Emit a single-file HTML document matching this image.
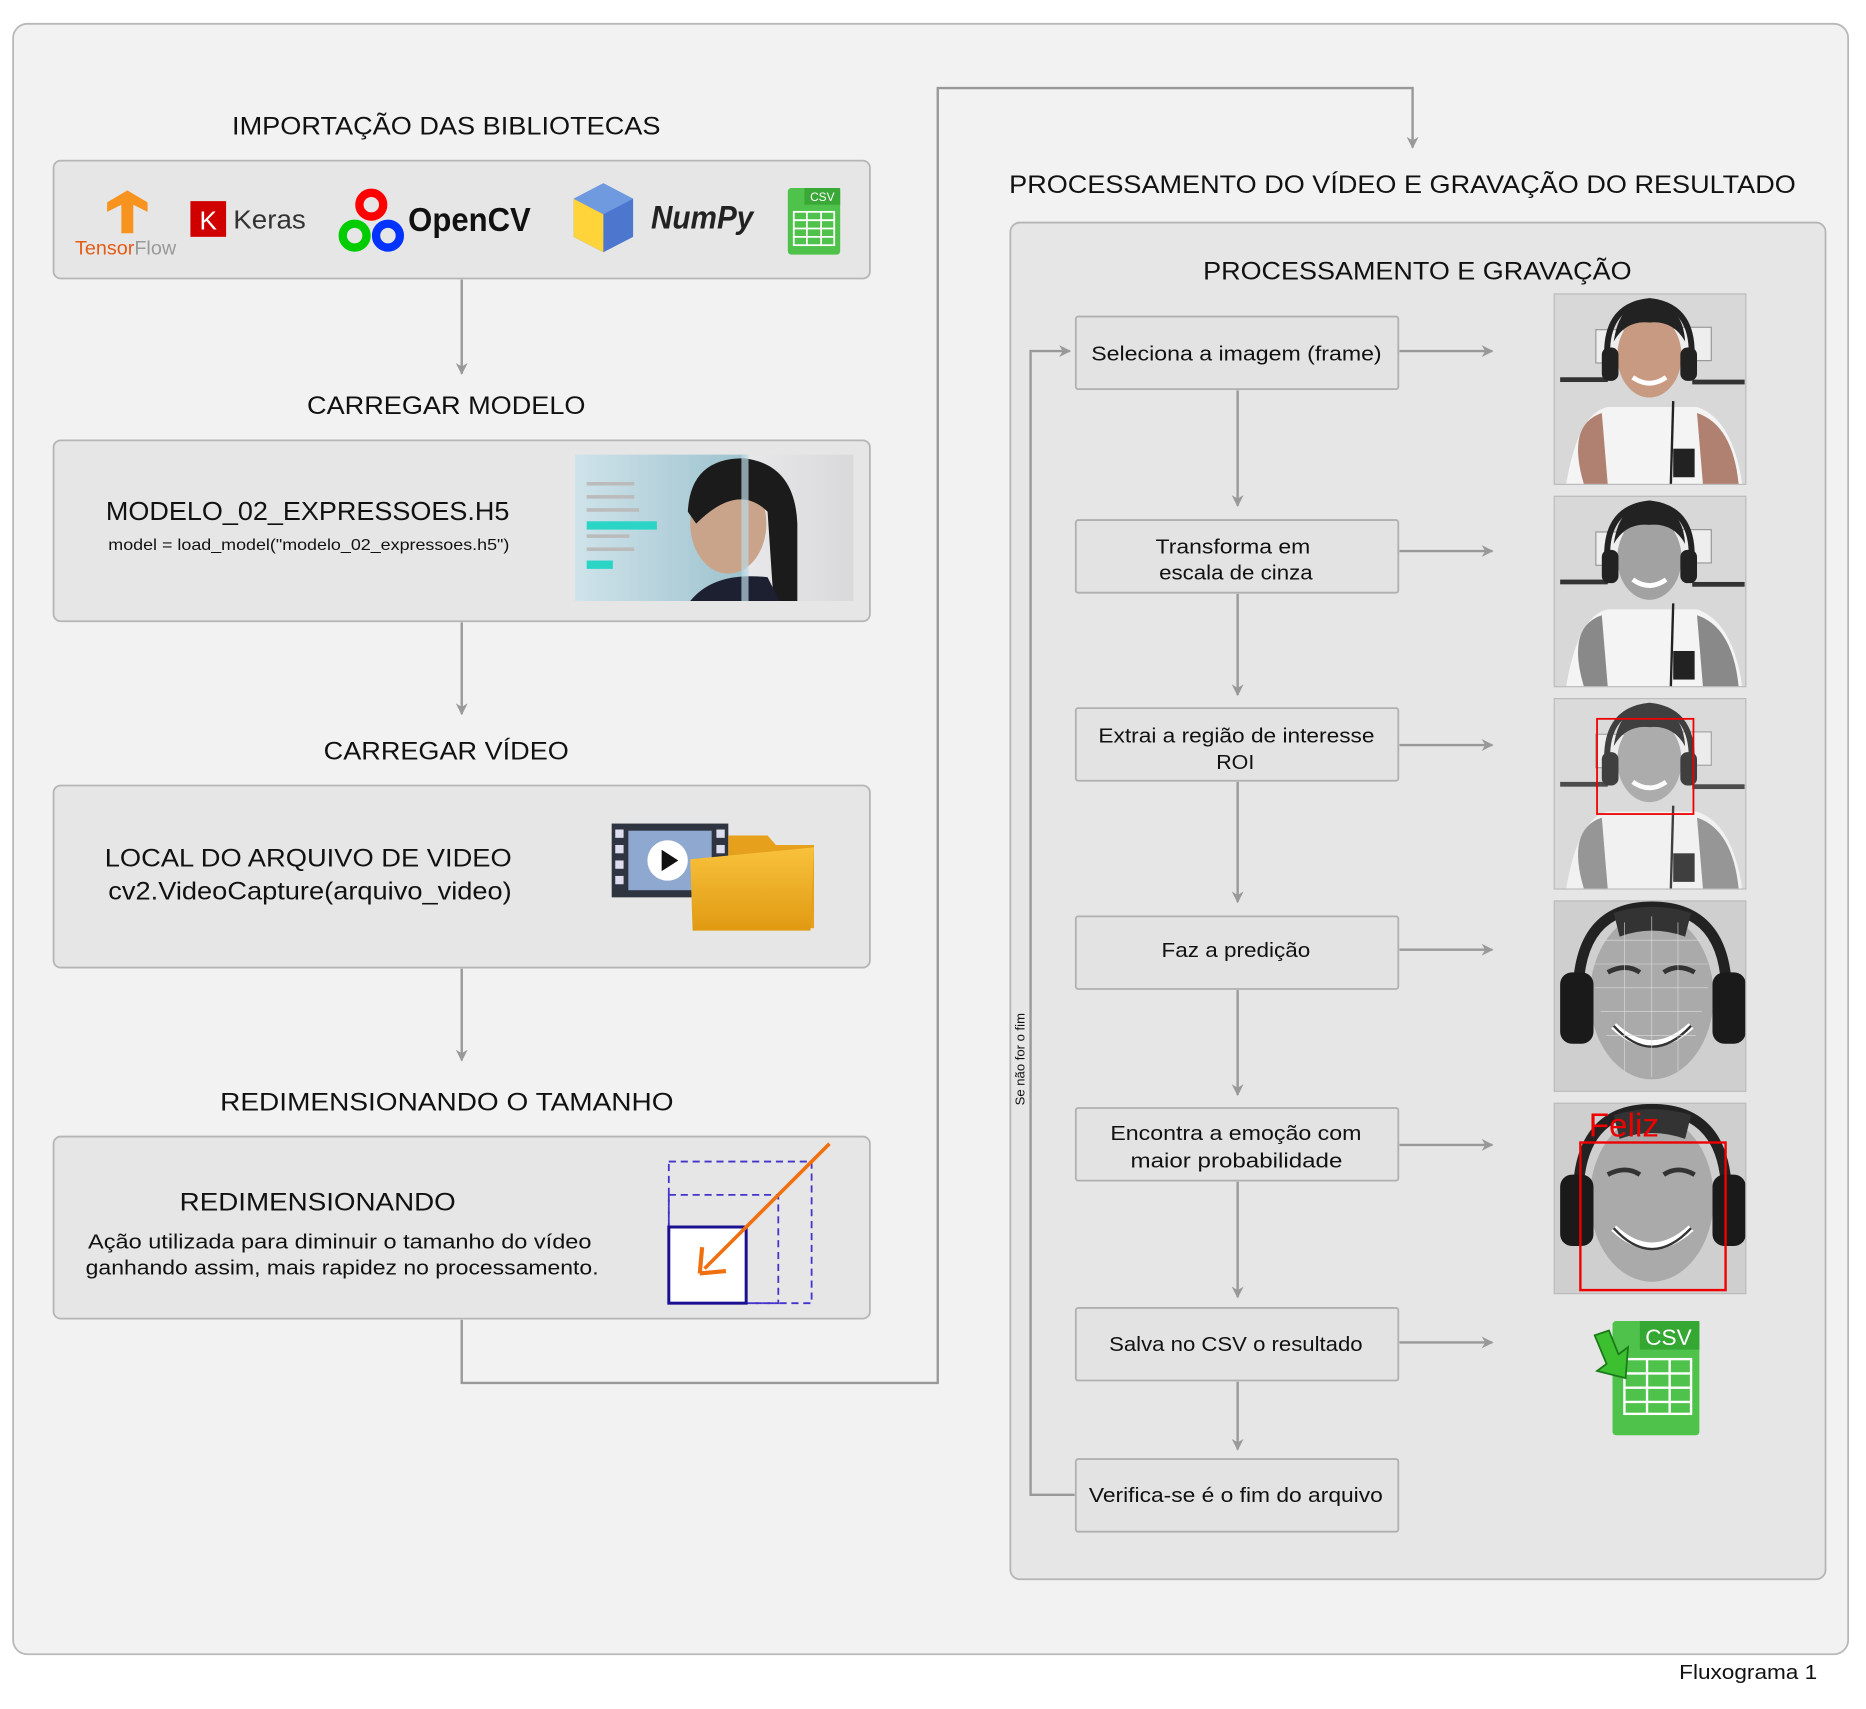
<!DOCTYPE html>
<html><head><meta charset="utf-8"><style>
html,body{margin:0;padding:0;background:#fff;}
svg{display:block;}
text{font-family:"Liberation Sans",sans-serif;fill:#111;}
</style></head><body>
<svg width="1866" height="1709" viewBox="0 0 1568 1436" preserveAspectRatio="none" xmlns="http://www.w3.org/2000/svg">
<defs>
<marker id="ar" markerWidth="10" markerHeight="10" refX="9" refY="5" orient="auto" markerUnits="userSpaceOnUse">
<path d="M0,0 L10,5 L0,10 L3,5 z" fill="#999"/></marker>
<linearGradient id="fold" x1="0" y1="0" x2="0" y2="1"><stop offset="0" stop-color="#f9c23c"/><stop offset="1" stop-color="#e09a12"/></linearGradient>
<linearGradient id="mdl" x1="0" y1="0" x2="1" y2="0"><stop offset="0" stop-color="#cfe3ea"/><stop offset="0.6" stop-color="#9ec3cf"/><stop offset="0.62" stop-color="#e8e8ea"/><stop offset="1" stop-color="#d9d9dc"/></linearGradient>
<g id="person">
<rect x="0" y="0" width="161" height="160" fill="#d8d8d8"/>
<rect x="5" y="70" width="40" height="4" fill="#333"/><rect x="116" y="72" width="44" height="4" fill="#333"/>
<rect x="35" y="30" width="30" height="28" fill="#eee" stroke="#999"/>
<rect x="100" y="28" width="32" height="28" fill="#eee" stroke="#999"/>
<path d="M10,160 Q20,100 45,95 L120,95 Q150,105 158,160 z" fill="#f4f4f4"/>
<path d="M25,160 Q10,110 40,100 L45,160 z" fill="#b08070"/>
<path d="M120,100 Q150,110 155,160 L125,160 z" fill="#b08070"/>
<ellipse cx="80" cy="52" rx="27" ry="35" fill="#c89a82"/>
<path d="M50,40 Q55,5 80,8 Q108,8 110,40 Q100,22 80,24 Q60,22 50,40z" fill="#222"/>
<path d="M45,60 Q40,10 80,6 Q120,10 115,60" fill="none" stroke="#222" stroke-width="5"/>
<rect x="40" y="45" width="14" height="28" rx="6" fill="#222"/><rect x="106" y="45" width="14" height="28" rx="6" fill="#222"/>
<path d="M66,70 Q80,80 94,70" stroke="#fff" stroke-width="4" fill="none"/>
<line x1="100" y1="90" x2="98" y2="160" stroke="#222" stroke-width="2"/>
<rect x="100" y="130" width="18" height="24" fill="#222"/>
</g>
<g id="face">
<rect x="0" y="0" width="161" height="160" fill="#cfcfcf"/>
<ellipse cx="82" cy="80" rx="52" ry="70" fill="#aaa"/>
<path d="M20,80 Q20,5 82,5 Q145,5 145,80" fill="none" stroke="#222" stroke-width="9"/>
<rect x="5" y="60" width="28" height="60" rx="10" fill="#1a1a1a"/><rect x="133" y="60" width="28" height="60" rx="10" fill="#1a1a1a"/>
<path d="M50,10 Q82,0 115,10 L110,30 Q82,20 55,30z" fill="#333"/>
<path d="M45,60 Q60,52 72,60 M92,60 Q104,52 118,60" stroke="#333" stroke-width="4" fill="none"/>
<path d="M50,105 Q82,135 115,105" stroke="#fff" stroke-width="6" fill="none"/>
<path d="M50,105 Q82,140 115,105" stroke="#333" stroke-width="2" fill="none"/>
</g>
</defs>

<rect x="11" y="20" width="1542" height="1370" rx="12" fill="#f2f2f2" stroke="#b8b8b8" stroke-width="1.5"/>

<g font-size="21" lengthAdjust="spacingAndGlyphs">
<text x="195" y="113" textLength="360" lengthAdjust="spacingAndGlyphs">IMPORTAÇÃO DAS BIBLIOTECAS</text>
<text x="258" y="348" textLength="234" lengthAdjust="spacingAndGlyphs">CARREGAR MODELO</text>
<text x="272" y="638" textLength="206" lengthAdjust="spacingAndGlyphs">CARREGAR VÍDEO</text>
<text x="185" y="933" textLength="381" lengthAdjust="spacingAndGlyphs">REDIMENSIONANDO O TAMANHO</text>
</g>

<g fill="#e6e6e6" stroke="#b5b5b5" stroke-width="1.5">
<rect x="45" y="135" width="686" height="99" rx="6"/>
<rect x="45" y="370" width="686" height="152" rx="6"/>
<rect x="45" y="660" width="686" height="153" rx="6"/>
<rect x="45" y="955" width="686" height="153" rx="6"/>
</g>

<g stroke="#999" stroke-width="2" fill="none" marker-end="url(#ar)">
<line x1="388" y1="235" x2="388" y2="314"/>
<line x1="388" y1="523" x2="388" y2="600"/>
<line x1="388" y1="814" x2="388" y2="891"/>
<polyline points="388,1109 388,1162 788,1162 788,74 1187,74 1187,124"/>
</g>

<path d="M90,170 L107,160 L124,170 L124,178 L112,172 L112,196 L102,196 L102,172 L90,178z" fill="#f7931e"/>
<text x="63" y="214" font-size="16" textLength="85" lengthAdjust="spacingAndGlyphs"><tspan fill="#e55b13">Tensor</tspan><tspan fill="#999">Flow</tspan></text>
<rect x="160" y="169" width="30" height="30" fill="#d00000"/>
<text x="175" y="193" font-size="22" text-anchor="middle" style="fill:#fff">K</text>
<text x="196" y="192" font-size="22" style="fill:#333" textLength="61" lengthAdjust="spacingAndGlyphs">Keras</text>
<circle cx="312" cy="172" r="10" fill="none" stroke="#ff0000" stroke-width="7"/>
<circle cx="298" cy="198" r="10" fill="none" stroke="#00cc00" stroke-width="7"/>
<circle cx="326" cy="198" r="10" fill="none" stroke="#0033ff" stroke-width="7"/>
<text x="343" y="194" font-size="28" font-weight="bold" style="fill:#111" textLength="103" lengthAdjust="spacingAndGlyphs">OpenCV</text>
<g>
<path d="M507,154 L532,167 L532,199 L507,212 L482,199 L482,167z" fill="#4d77cf"/>
<path d="M507,154 L532,167 L507,180 L482,167z" fill="#6f9ae0"/>
<path d="M482,167 L507,180 L507,212 L482,199z" fill="#ffd43b"/>
</g>
<text x="547" y="192" font-size="27" font-weight="bold" font-style="italic" style="fill:#222" textLength="86" lengthAdjust="spacingAndGlyphs">NumPy</text>
<rect x="662" y="158" width="44" height="56" rx="3" fill="#4ec24a"/>
<rect x="676" y="158" width="30" height="14" fill="#3aa836"/>
<text x="691" y="169" font-size="10" text-anchor="middle" style="fill:#fff">CSV</text>
<g stroke="#fff" stroke-width="1.5" fill="none"><rect x="667" y="178" width="34" height="28"/><line x1="667" y1="185" x2="701" y2="185"/><line x1="667" y1="192" x2="701" y2="192"/><line x1="667" y1="199" x2="701" y2="199"/><line x1="678" y1="178" x2="678" y2="206"/><line x1="690" y1="178" x2="690" y2="206"/></g>

<text x="89" y="437" font-size="22" textLength="339" lengthAdjust="spacingAndGlyphs">MODELO_02_EXPRESSOES.H5</text>
<text x="91" y="462" font-size="13.5" textLength="337" lengthAdjust="spacingAndGlyphs">model = load_model("modelo_02_expressoes.h5")</text>
<rect x="483" y="382" width="234" height="123" fill="url(#mdl)"/>
<g fill="#bbb"><rect x="493" y="405" width="40" height="3"/><rect x="493" y="416" width="40" height="3"/><rect x="493" y="427" width="44" height="3"/><rect x="493" y="449" width="36" height="3"/><rect x="493" y="460" width="40" height="3"/></g>
<rect x="493" y="438" width="59" height="7" fill="#2bd5c6"/><rect x="493" y="471" width="22" height="7" fill="#2bd5c6"/>
<ellipse cx="612" cy="440" rx="32" ry="42" fill="#c9a48a"/>
<path d="M578,430 Q580,385 625,385 Q668,390 670,440 L670,505 L650,505 L645,430 Q620,405 585,440z" fill="#1b1b1b"/>
<path d="M580,505 Q600,480 645,485 L655,505z" fill="#1c2030"/>
<rect x="623" y="382" width="6" height="123" fill="#bcd8e2" opacity="0.7"/>

<text x="88" y="728" font-size="21" textLength="342" lengthAdjust="spacingAndGlyphs">LOCAL DO ARQUIVO DE VIDEO</text>
<text x="91" y="756" font-size="21" textLength="339" lengthAdjust="spacingAndGlyphs">cv2.VideoCapture(arquivo_video)</text>
<rect x="514" y="692" width="98" height="62" fill="#2e3440"/>
<rect x="528" y="698" width="70" height="50" fill="#8fa8cf"/>
<g fill="#dde"><rect x="517" y="697" width="7" height="7"/><rect x="517" y="710" width="7" height="7"/><rect x="517" y="723" width="7" height="7"/><rect x="517" y="736" width="7" height="7"/><rect x="602" y="697" width="7" height="7"/><rect x="602" y="710" width="7" height="7"/></g>
<circle cx="561" cy="723" r="17" fill="#fff"/><path d="M556,714 L570,723 L556,732z" fill="#111"/>
<path d="M612,702 L645,702 L652,710 L684,710 L684,780 L612,780z" fill="#e6a01c"/>
<path d="M580,722 L684,712 L681,782 L582,782z" fill="url(#fold)"/>

<text x="151" y="1017" font-size="21" textLength="232" lengthAdjust="spacingAndGlyphs">REDIMENSIONANDO</text>
<text x="74" y="1049" font-size="17" textLength="423" lengthAdjust="spacingAndGlyphs">Ação utilizada para diminuir o tamanho do vídeo</text>
<text x="72" y="1071" font-size="17" textLength="431" lengthAdjust="spacingAndGlyphs">ganhando assim, mais rapidez no processamento.</text>
<g fill="none" stroke="#4433cc" stroke-width="1.5" stroke-dasharray="6,4">
<rect x="562" y="976" width="120" height="119"/>
<rect x="562" y="1004" width="92" height="91"/>
</g>
<rect x="562" y="1031" width="65" height="64" fill="#fff" stroke="#1a1090" stroke-width="2.5"/>
<line x1="697" y1="961" x2="592" y2="1066" stroke="#f07010" stroke-width="3"/>
<path d="M588,1070 L590,1048 M588,1070 L610,1068" stroke="#f07010" stroke-width="3.5" fill="none"/>

<text x="848" y="162" font-size="21" textLength="661" lengthAdjust="spacingAndGlyphs">PROCESSAMENTO DO VÍDEO E GRAVAÇÃO DO RESULTADO</text>
<rect x="849" y="187" width="685" height="1140" rx="8" fill="#e6e6e6" stroke="#b5b5b5" stroke-width="1.5"/>
<text x="1011" y="235" font-size="21" textLength="360" lengthAdjust="spacingAndGlyphs">PROCESSAMENTO E GRAVAÇÃO</text>

<g fill="#e3e3e3" stroke="#b0b0b0" stroke-width="1.5">
<rect x="904" y="266" width="271" height="61" rx="2"/>
<rect x="904" y="437" width="271" height="61" rx="2"/>
<rect x="904" y="595" width="271" height="61" rx="2"/>
<rect x="904" y="770" width="271" height="61" rx="2"/>
<rect x="904" y="931" width="271" height="61" rx="2"/>
<rect x="904" y="1099" width="271" height="61" rx="2"/>
<rect x="904" y="1226" width="271" height="61" rx="2"/>
</g>
<g font-size="17">
<text x="917" y="303" textLength="244" lengthAdjust="spacingAndGlyphs">Seleciona a imagem (frame)</text>
<text x="971" y="465" textLength="130" lengthAdjust="spacingAndGlyphs">Transforma em</text><text x="974" y="487" textLength="129" lengthAdjust="spacingAndGlyphs">escala de cinza</text>
<text x="923" y="624" textLength="232" lengthAdjust="spacingAndGlyphs">Extrai a região de interesse</text><text x="1022" y="646" textLength="32" lengthAdjust="spacingAndGlyphs">ROI</text>
<text x="976" y="804" textLength="125" lengthAdjust="spacingAndGlyphs">Faz a predição</text>
<text x="933" y="958" textLength="211" lengthAdjust="spacingAndGlyphs">Encontra a emoção com</text><text x="950" y="981" textLength="178" lengthAdjust="spacingAndGlyphs">maior probabilidade</text>
<text x="932" y="1135" textLength="213" lengthAdjust="spacingAndGlyphs">Salva no CSV o resultado</text>
<text x="915" y="1262" textLength="247" lengthAdjust="spacingAndGlyphs">Verifica-se é o fim do arquivo</text>
</g>

<g stroke="#999" stroke-width="2" fill="none" marker-end="url(#ar)">
<line x1="1040" y1="328" x2="1040" y2="425"/>
<line x1="1040" y1="499" x2="1040" y2="584"/>
<line x1="1040" y1="657" x2="1040" y2="758"/>
<line x1="1040" y1="832" x2="1040" y2="920"/>
<line x1="1040" y1="993" x2="1040" y2="1090"/>
<line x1="1040" y1="1161" x2="1040" y2="1218"/>
<line x1="1176" y1="295" x2="1254" y2="295"/>
<line x1="1176" y1="463" x2="1254" y2="463"/>
<line x1="1176" y1="626" x2="1254" y2="626"/>
<line x1="1176" y1="798" x2="1254" y2="798"/>
<line x1="1176" y1="962" x2="1254" y2="962"/>
<line x1="1176" y1="1128" x2="1254" y2="1128"/>
<polyline points="903,1256 866,1256 866,295 899,295"/>
</g>
<text transform="translate(861,890) rotate(-90)" font-size="11" text-anchor="middle">Se não for o fim</text>

<use href="#person" x="1306" y="247"/>
<g style="filter:grayscale(1)"><use href="#person" x="1306" y="417"/></g>
<g style="filter:grayscale(1);opacity:0.85"><use href="#person" x="1306" y="587"/></g>
<rect x="1342" y="604" width="81" height="80" fill="none" stroke="#e00" stroke-width="1.5"/>
<use href="#face" x="1306" y="757"/>
<g stroke="#ddd" stroke-width="0.5" fill="none"><path d="M1345,790 L1430,790 M1340,810 L1435,810 M1340,830 L1435,830 M1345,850 L1430,850 M1350,870 L1425,870 M1365,775 L1365,900 M1388,770 L1388,905 M1410,775 L1410,900"/></g>
<use href="#face" x="1306" y="927"/>
<rect x="1328" y="960" width="122" height="124" fill="none" stroke="#e00" stroke-width="2"/>
<text x="1335" y="955" font-size="28" style="fill:#ee0000">Feliz</text>
<g stroke="#bbb" fill="none" stroke-width="1">
<rect x="1306" y="247" width="161" height="160"/><rect x="1306" y="417" width="161" height="160"/><rect x="1306" y="587" width="161" height="160"/><rect x="1306" y="757" width="161" height="160"/><rect x="1306" y="927" width="161" height="160"/></g>

<rect x="1355" y="1110" width="73" height="96" rx="3" fill="#4ec24a"/>
<rect x="1378" y="1110" width="50" height="24" fill="#34a832"/>
<text x="1402" y="1130" font-size="19" text-anchor="middle" style="fill:#fff">CSV</text>
<g stroke="#fff" stroke-width="2" fill="none"><rect x="1365" y="1142" width="56" height="46"/><line x1="1365" y1="1154" x2="1421" y2="1154"/><line x1="1365" y1="1166" x2="1421" y2="1166"/><line x1="1365" y1="1178" x2="1421" y2="1178"/><line x1="1384" y1="1142" x2="1384" y2="1188"/><line x1="1403" y1="1142" x2="1403" y2="1188"/></g>
<path d="M1340,1122 L1352,1118 L1360,1138 L1368,1132 L1366,1158 L1342,1152 L1350,1146z" fill="#3cc030" stroke="#1a7a18" stroke-width="1.5"/>

<text x="1411" y="1411" font-size="17" textLength="116" lengthAdjust="spacingAndGlyphs">Fluxograma 1</text>
</svg>
</body></html>
